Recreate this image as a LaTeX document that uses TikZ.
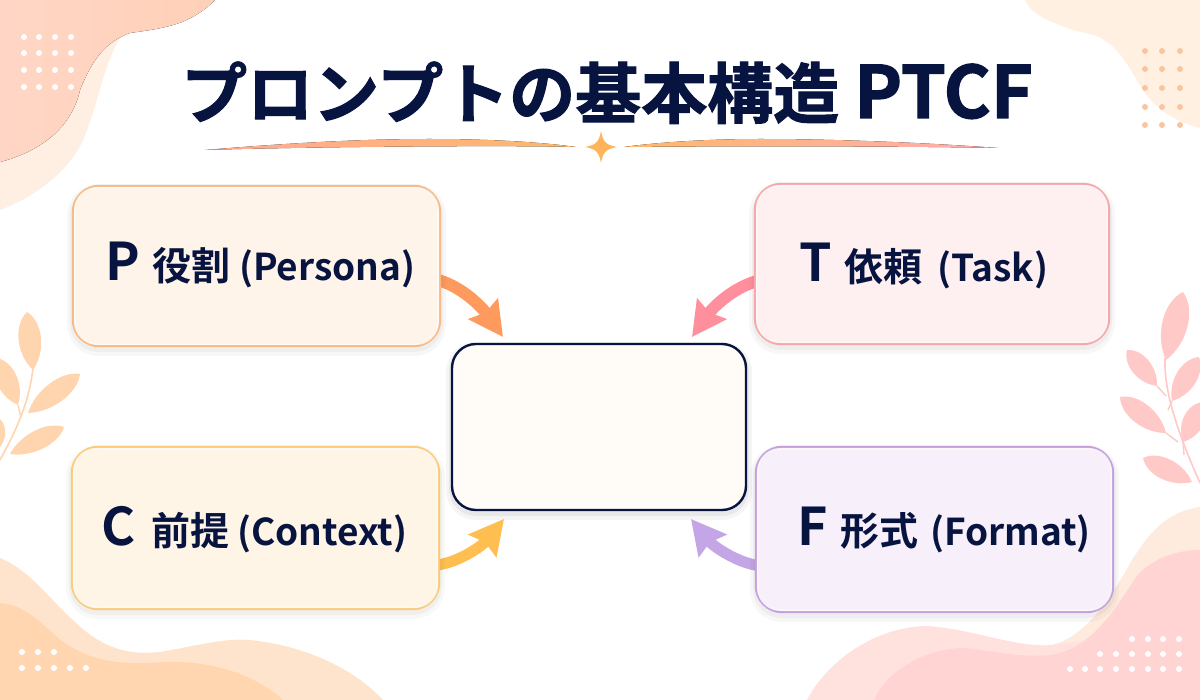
\documentclass[tikz,border=0pt]{standalone}
\usepackage{fontspec}
\setmainfont{Noto Sans CJK JP}[BoldFont={Noto Sans CJK JP Bold}]
\newfontfamily\titlefont{Noto Sans CJK JP Bold}[FakeBold=1.6]
\usetikzlibrary{arrows.meta,calc}
\definecolor{navy}{HTML}{081440}
\definecolor{pstroke}{HTML}{F7B985}\definecolor{pfill}{HTML}{FFF4EA}\definecolor{parrow}{HTML}{FF9A5E}
\definecolor{tstroke}{HTML}{F6A5A9}\definecolor{tfill}{HTML}{FEF0F0}\definecolor{tarrow}{HTML}{FF8F9C}
\definecolor{cstroke}{HTML}{FACB78}\definecolor{cfill}{HTML}{FFF5E6}\definecolor{carrow}{HTML}{FFBF50}
\definecolor{fstroke}{HTML}{C4A0DC}\definecolor{ffill}{HTML}{F7EFFA}\definecolor{farrow}{HTML}{C4A5E6}
\definecolor{leafo}{HTML}{FFD5B0}\definecolor{leafp}{HTML}{FFC9C7}
\definecolor{tlA}{RGB}{255,238,226}\definecolor{tlB}{RGB}{255,214,197}\definecolor{tlC}{RGB}{255,208,184}
\definecolor{trA}{RGB}{255,240,226}\definecolor{trDot}{RGB}{249,196,158}
\definecolor{blA}{RGB}{255,228,205}\definecolor{blB}{RGB}{255,214,176}
\definecolor{brA}{RGB}{254,235,221}\definecolor{brB}{RGB}{255,226,222}\definecolor{brC}{RGB}{255,212,210}
\definecolor{swA}{RGB}{255,170,150}\definecolor{swB}{RGB}{255,184,106}\definecolor{swC}{RGB}{255,172,176}
\definecolor{starc}{RGB}{255,180,92}
\newcommand{\leafshape}[6]{% base x,y tip x,y half-width colour
  \coordinate (la) at (#1,#2);\coordinate (lb) at (#3,#4);
  \fill[#6] (la) .. controls ($(la)!0.3!(lb)!#5pt!90:(lb)$) and ($(la)!0.8!(lb)!#5pt!90:(lb)$) .. (lb)
     .. controls ($(lb)!0.2!(la)!#5pt!90:(la)$) and ($(lb)!0.7!(la)!#5pt!90:(la)$) .. (la);
}
\newcommand{\dotrow}[3]{\foreach \dx in {#1}{\fill[#3] (\dx,#2) circle (3);}}
\newcommand{\boxglow}[1]{\draw[white,opacity=.75,line width=1.4pt,rounded corners=23pt]
   ($(#1.north west)+(2.8,2.8)$) rectangle ($(#1.south east)+(-2.8,-2.8)$);}
\tikzset{
  x=1pt,y=-1pt,
  card/.style n args={2}{draw=#1,fill=#2,line width=2.4pt,rounded corners=26pt,inner sep=0pt,
     preaction={draw=black!60!#1,draw opacity=.04,fill=none,line width=12pt,transform canvas={yshift=-4pt}},
     preaction={draw=black!60!#1,draw opacity=.05,fill=none,line width=6pt,transform canvas={yshift=-3pt}}},
  lbl/.style={anchor=base west,inner sep=0pt,text=navy,font=\bfseries\fontsize{39}{39}\selectfont},
  flow/.style={line width=#1,-{Stealth[length=34pt,width=35pt,inset=4pt]}},
  flow/.default=12pt,
}
\newcommand{\bigletter}[2]{\makebox[#2pt][l]{\fontsize{52}{52}\selectfont #1}}
\newcommand{\kanji}[2]{\makebox[#2pt][l]{#1}}
\newcommand{\latin}[1]{{\fontsize{37}{37}\selectfont #1}}
\begin{document}
\begin{tikzpicture}
\useasboundingbox (0,0) rectangle (1200,700);
\fill[white] (0,0) rectangle (1200,700);
% top-left blobs
\fill[tlA] (0,0) -- (130,0) -- (120,38) .. controls (105,62) and (100,95) .. (86,133) .. controls (75,165) and (40,195) .. (0,210) -- cycle;
\fill[left color=tlB,right color=tlC] (0,0) -- (215,0) .. controls (190,25) and (165,28) .. (130,33) .. controls (105,42) and (92,60) .. (80,90) .. controls (72,125) and (45,150) .. (0,162) -- cycle;
\foreach \dy in {37,53,70,87}{\dotrow{24,39,55,71}{\dy}{white}}
% top-right blob
\fill[trA] (1025,0) .. controls (1030,15) and (1060,28) .. (1094,35) .. controls (1120,45) and (1130,70) .. (1143,90) .. controls (1155,108) and (1175,122) .. (1200,128) -- (1200,0) -- cycle;
\foreach \dy in {51,69,88,107,125}{\dotrow{1145,1162,1180}{\dy}{trDot}}
% bottom-left blobs
\fill[blA] (0,558) .. controls (30,570) and (50,600) .. (76,623) .. controls (105,650) and (130,655) .. (160,652) .. controls (200,645) and (225,638) .. (249,640) .. controls (300,645) and (350,665) .. (383,700) -- (0,700) -- cycle;
\fill[blB] (0,603) .. controls (25,605) and (40,622) .. (57,637) .. controls (85,660) and (115,664) .. (150,663) .. controls (200,658) and (250,670) .. (283,700) -- (0,700) -- cycle;
\dotrow{22,38,54}{652}{white}
\dotrow{22,38,54,70,86}{668}{white}
% bottom-right blobs
\fill[brA] (1200,507) .. controls (1165,512) and (1148,535) .. (1132,560) .. controls (1115,590) and (1090,635) .. (1052,645) -- (1000,700) -- (1200,700) -- cycle;
\fill[brB] (807,700) .. controls (825,665) and (870,628) .. (925,626) .. controls (970,628) and (1015,648) .. (1052,645) -- (1090,640) -- (1100,700) -- cycle;
\fill[brC] (874,700) .. controls (885,672) and (925,648) .. (964,648) .. controls (990,650) and (1015,658) .. (1050,655) .. controls (1090,650) and (1115,610) .. (1136,577) .. controls (1150,560) and (1175,550) .. (1200,550) -- (1200,700) -- cycle;
\dotrow{1132,1148,1163,1179}{639}{white}
\dotrow{1100,1116,1132,1148,1163,1179}{654}{white}
\dotrow{1070,1085,1100,1116,1132,1148,1163,1179}{669}{white}
% left sprig
\draw[leafo,line width=1.6pt] (33,368) .. controls (30,395) and (22,420) .. (0,460);
\draw[leafo,line width=1.4pt] (18,405) -- (21,418);
\leafshape{33}{370}{27}{312}{15}{leafo}
\leafshape{18}{405}{-3}{358}{14}{leafo}
\leafshape{28}{413}{80}{374}{14}{leafo}
\leafshape{10}{454}{64}{427}{13}{leafo}
\leafshape{0}{447}{-3}{417}{9}{leafo}
% right sprig
\draw[leafp,line width=1.6pt] (1165,358) .. controls (1164,385) and (1172,420) .. (1200,483);
\draw[leafp,line width=1.4pt] (1157,386) -- (1166,396);
\draw[leafp,line width=1.4pt] (1172,401) -- (1168,410);
\draw[leafp,line width=1.4pt] (1166,433) -- (1178,442);
\draw[leafp,line width=1.4pt] (1183,442) -- (1184,455);
\leafshape{1166}{360}{1183}{292}{17}{leafp}
\leafshape{1157}{386}{1127}{350}{13}{leafp}
\leafshape{1172}{401}{1199}{357}{14}{leafp}
\leafshape{1166}{433}{1120}{397}{14}{leafp}
\leafshape{1183}{442}{1203}{402}{14}{leafp}
\leafshape{1192}{482}{1143}{458}{14}{leafp}
% title
\node[anchor=base west,inner sep=0pt,text=navy,font=\titlefont\fontsize{66}{66}\selectfont] (title) at (181,118) {プロンプトの基本構造 {\fontsize{72}{72}\selectfont PTCF}};
% swoosh
\fill[left color=swA,right color=swB] (205,150) .. controls (290,143) and (360,139) .. (430,139) .. controls (490,139) and (540,142) .. (576,147) .. controls (500,145) and (300,147) .. (205,150) -- cycle;
\fill[left color=swB,right color=swC] (624,147) .. controls (660,142) and (710,139) .. (760,139) .. controls (840,139) and (930,143) .. (998,148) .. controls (900,146) and (720,146) .. (624,147) -- cycle;
\fill[starc] (601,131) .. controls (603,142) and (606,145) .. (617,147) .. controls (606,149) and (603,152) .. (601,163) .. controls (599,152) and (596,149) .. (585,147) .. controls (596,145) and (599,142) .. (601,131) -- cycle;
% arrow tips
\coordinate (ptip) at (503,337);
\coordinate (ttip) at (692,337);
\coordinate (ctip) at (504,519);
\coordinate (ftip) at (691,519);
% card positions
\path (256.5,266) node[minimum width=367pt,minimum height=160pt,inner sep=0pt] (p) {};
\path (932,264) node[minimum width=354pt,minimum height=160pt,inner sep=0pt] (t) {};
\path (255.5,528) node[minimum width=367pt,minimum height=162pt,inner sep=0pt] (c) {};
\path (934.5,529.5) node[minimum width=357pt,minimum height=165pt,inner sep=0pt] (f) {};
% arrows
\draw[flow,parrow] ($(p.east)+(-2,14)$) .. controls (465,288) and (484,310) .. (ptip);
\draw[flow,tarrow] ($(t.west)+(2,17)$) .. controls (730,289) and (711,310) .. (ttip);
\draw[flow=11pt,carrow] ($(c.east)+(-2,37)$) .. controls (460,562) and (483,545) .. (ctip);
\draw[flow=11pt,farrow] ($(f.west)+(2,36)$) .. controls (735,562) and (712,545) .. (ftip);
% boxes
\node[card={pstroke}{pfill},minimum width=367pt,minimum height=160pt] (pbox) at (p) {};
\node[card={tstroke}{tfill},minimum width=354pt,minimum height=160pt] (tbox) at (t) {};
\node[card={cstroke}{cfill},minimum width=367pt,minimum height=162pt] (cbox) at (c) {};
\node[card={fstroke}{ffill},minimum width=357pt,minimum height=165pt] (fbox) at (f) {};
\node[card={navy}{white!70!cfill},minimum width=294pt,minimum height=166pt,rounded corners=24pt] (main) at (599,427) {};
\boxglow{pbox}\boxglow{tbox}\boxglow{cbox}\boxglow{fbox}
% labels
\node[lbl] (plabel) at (105,281) {\bigletter{P}{47}\kanji{役割}{87}\latin{(Persona)}};
\node[lbl] (tlabel) at (799,282) {\bigletter{T}{45}\kanji{依頼}{93}\latin{(Task)}};
\node[lbl] (clabel) at (101,545) {\bigletter{C}{50}\kanji{前提}{86}\latin{(Context)}};
\node[lbl] (flabel) at (797,545) {\bigletter{F}{43}\kanji{形式}{90}\latin{(Format)}};
\end{tikzpicture}
\end{document}
